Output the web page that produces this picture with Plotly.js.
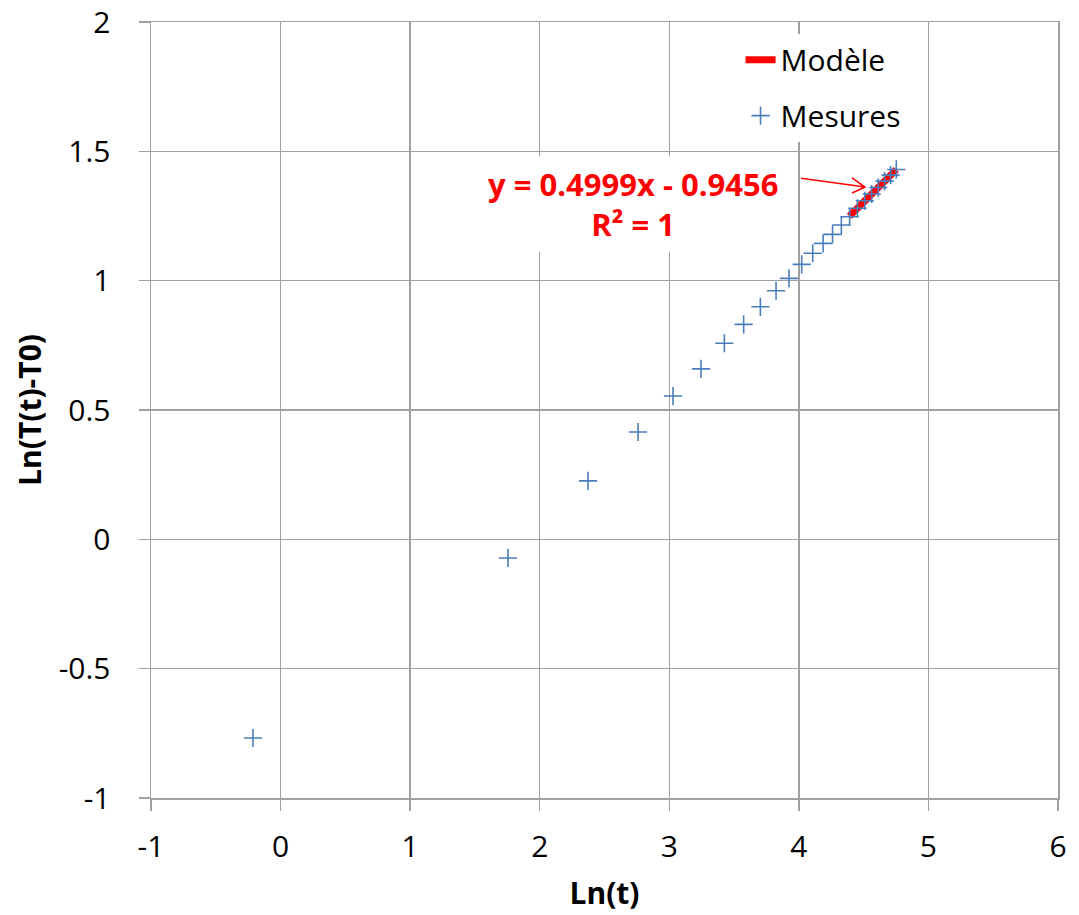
<!DOCTYPE html>
<html>
<head>
<meta charset="utf-8">
<script src="https://cdn.plot.ly/plotly-3.0.1.min.js"></script>
<style>html,body{margin:0;padding:0;background:#fff;}#chart{width:1079px;height:915px;}</style>
</head>
<body>
<div id="chart"></div>
<script>
// Measured points: Ln(t) and Ln(T(t)-T0)
const lnT_x = [-0.213, 1.755, 2.373, 2.759, 3.029, 3.245, 3.425, 3.574, 3.703, 3.824, 3.924, 4.022, 4.107, 4.187, 4.260, 4.328, 4.392, 4.452, 4.509, 4.562, 4.613, 4.662, 4.708, 4.752];
const lnDT_y = [-0.768, -0.072, 0.226, 0.415, 0.554, 0.659, 0.758, 0.831, 0.899, 0.961, 1.009, 1.063, 1.106, 1.144, 1.179, 1.215, 1.247, 1.280, 1.309, 1.335, 1.360, 1.385, 1.408, 1.430];
// Model (trend line) endpoints
const modelX = [4.39, 4.752];
const modelY = [1.249, 1.430];
const seriesNames = ["Modèle", "Mesures"];
const eqText = "y = 0.4999x - 0.9456";
const r2Text = "R² = 1";
const xTitle = "Ln(t)";
const yTitle = "Ln(T(t)-T0)";
const xTickVals = [-1, 0, 1, 2, 3, 4, 5, 6];
const xTickText = ["-1", "0", "1", "2", "3", "4", "5", "6"];
const yTickVals = [-1, -0.5, 0, 0.5, 1, 1.5, 2];
const yTickText = ["-1", "-0.5", "0", "0.5", "1", "1.5", "2"];

const FONT = "Open Sans, Liberation Sans, sans-serif";
const GRID = "#a0a0a0";

const traces = [
  {
    x: modelX, y: modelY, name: seriesNames[0], type: "scatter", mode: "lines",
    line: {color: "#ff0000", width: 7}, legendgroup: "a"
  },
  {
    x: lnT_x, y: lnDT_y, name: seriesNames[1], type: "scatter", mode: "markers",
    marker: {symbol: "cross-thin-open", size: 13, color: "#4a7ebb", line: {color: "#4a7ebb", width: 1.6}},
    legendgroup: "b"
  }
];

const layout = {
  width: 1079, height: 915,
  margin: {l: 151, r: 21, t: 22, b: 117},
  paper_bgcolor: "#ffffff", plot_bgcolor: "#ffffff",
  font: {family: FONT, size: 30, color: "#000"},
  showlegend: true,
  legend: {
    x: 0.65, y: 0.985, xanchor: "left", yanchor: "top",
    bgcolor: "#ffffff", font: {family: FONT, size: 30, color: "#000"},
    tracegroupgap: 14, traceorder: "grouped"
  },
  xaxis: {
    range: [-1, 6], tickmode: "array", tickvals: xTickVals, ticktext: xTickText,
    showgrid: true, gridcolor: GRID, gridwidth: 1.5,
    zeroline: false, showline: true, linecolor: GRID, linewidth: 1.5, mirror: true,
    ticks: "outside", ticklen: 11, tickcolor: GRID, tickwidth: 1.5,
    tickfont: {family: FONT, size: 30}, ticklabelstandoff: 10,
    title: {text: xTitle, font: {family: FONT, size: 30, weight: "bold"}, standoff: 18}
  },
  yaxis: {
    range: [-1, 2], tickmode: "array", tickvals: yTickVals, ticktext: yTickText,
    showgrid: true, gridcolor: GRID, gridwidth: 1.5,
    zeroline: false, showline: true, linecolor: GRID, linewidth: 1.5, mirror: true,
    ticks: "outside", ticklen: 11, tickcolor: GRID, tickwidth: 1.5,
    tickfont: {family: FONT, size: 30}, ticklabelstandoff: 22,
    title: {text: yTitle, font: {family: FONT, size: 30, weight: "bold"}, standoff: 8}
  },
  annotations: [
    {
      x: 2.72, y: 1.296, xref: "x", yref: "y", showarrow: false,
      text: "<b>" + eqText + "</b><br><b>" + r2Text + "</b>",
      font: {family: FONT, size: 31, color: "#ff0000"},
      bgcolor: "#ffffff", borderpad: 6, align: "center"
    }
  ],
  shapes: [
    {
      type: "path", xref: "x", yref: "y",
      path: "M 4.017 1.396 L 4.511 1.362 M 4.410 1.397 L 4.511 1.362 L 4.410 1.339",
      line: {color: "#ff0000", width: 1.5}
    }
  ]
};

Plotly.newPlot("chart", traces, layout, {displayModeBar: false, staticPlot: true});
</script>
</body>
</html>
